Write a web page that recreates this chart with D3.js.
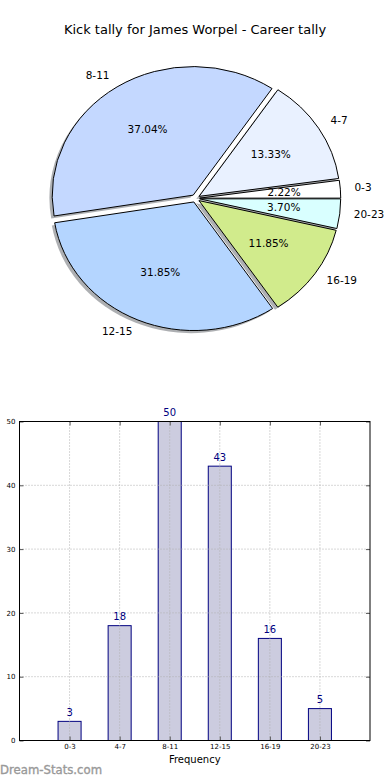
<!DOCTYPE html>
<html><head><meta charset="utf-8">
<script src="https://cdn.jsdelivr.net/npm/d3@7"></script>
<style>body{margin:0;background:#fff}svg{display:block;font-family:"DejaVu Sans",sans-serif}</style>
</head><body>
<script>
const categories = ["0-3","4-7","8-11","12-15","16-19","20-23"];
const values = [3,18,50,43,16,5];
const pieColors = ["#ffffff","#e9f1ff","#c4d8ff","#b4d5ff","#d1eb8c","#d9ffff"];
const yTicks = [0,10,20,30,40,50];
const title = "Kick tally for James Worpel - Career tally";

const W = 390, H = 780;
const svg = d3.select("body").append("svg").attr("width", W).attr("height", H);

svg.append("text").attr("x", 195).attr("y", 30).attr("text-anchor","middle")
  .attr("dominant-baseline","middle").attr("font-size", 13).text(title);

// ---- Pie ----
const cx = 195.5, cy = 198.4, rx = 141, ry = 128.6, explode = 0.03;
const total = d3.sum(values);
const pie = d3.pie().sort(null).startAngle(Math.PI/2).endAngle(Math.PI/2 - 2*Math.PI);
const arcs = pie(values);
const arcGen = d3.arc().innerRadius(0).outerRadius(1);
const gPie = svg.append("g");
function mathMid(d){ return Math.PI/2 - (d.startAngle + d.endAngle)/2; }
function off(d){ const t = mathMid(d); return [explode*rx*Math.cos(t), -explode*ry*Math.sin(t)]; }
// shadows
arcs.forEach((d,i)=>{
  const [ox,oy] = off(d);
  gPie.append("path").attr("d", arcGen(d))
    .attr("transform", `translate(${cx+ox-2.8},${cy+oy+2.6}) scale(${rx},${ry})`)
    .attr("fill", "#6a6d73").attr("fill-opacity", 0.55).attr("stroke","none");
});
arcs.forEach((d,i)=>{
  const [ox,oy] = off(d);
  gPie.append("path").attr("d", arcGen(d))
    .attr("transform", `translate(${cx+ox},${cy+oy}) scale(${rx},${ry})`)
    .attr("fill", pieColors[i]).attr("stroke","#000").attr("stroke-width",1)
    .attr("vector-effect","non-scaling-stroke").attr("stroke-linejoin","miter");
});
arcs.forEach((d,i)=>{
  const t = mathMid(d); const [ox,oy] = off(d);
  const lx = cx + ox + 1.1*rx*Math.cos(t), ly = cy + oy - 1.1*ry*Math.sin(t);
  gPie.append("text").attr("x", lx).attr("y", ly)
    .attr("text-anchor", Math.cos(t) < 0 ? "end" : "start")
    .attr("dominant-baseline","middle").attr("font-size", 10.5).text(categories[i]);
  const px = cx + ox + 0.6*rx*Math.cos(t), py = cy + oy - 0.6*ry*Math.sin(t);
  gPie.append("text").attr("x", px).attr("y", py).attr("text-anchor","middle")
    .attr("dominant-baseline","middle").attr("font-size", 10.5)
    .text((values[i]/total*100).toFixed(2) + "%");
});

// ---- Bar chart ----
const L = 19.5, R = 370, T = 421.5, B = 740.5;
const x = d3.scaleLinear().domain([-1, 6]).range([L, R]);
const y = d3.scaleLinear().domain([0, 50]).range([B, T]);
const bw = 0.46;
const gb = svg.append("g");
gb.selectAll("rect.bar").data(values).join("rect").attr("class","bar")
  .attr("x", (d,i)=> x(i - bw/2)).attr("width", (d,i)=> x(i+bw/2) - x(i-bw/2))
  .attr("y", d=> y(d)).attr("height", d=> y(0) - y(d))
  .attr("fill", "#ccccdf").attr("stroke", "#000080").attr("stroke-width", 1);
// grid
const gridC = "#b0b0b0";
gb.selectAll("line.vg").data(categories).join("line").attr("class","vg")
  .attr("x1",(d,i)=>x(i)).attr("x2",(d,i)=>x(i)).attr("y1",T).attr("y2",B)
  .attr("stroke",gridC).attr("stroke-dasharray","1,2").attr("stroke-width",1);
gb.selectAll("line.hg").data(yTicks.slice(1,-1)).join("line").attr("class","hg")
  .attr("x1",L).attr("x2",R).attr("y1",d=>y(d)).attr("y2",d=>y(d))
  .attr("stroke",gridC).attr("stroke-dasharray","1,2").attr("stroke-width",1);
// value labels
gb.selectAll("text.val").data(values).join("text").attr("class","val")
  .attr("x",(d,i)=>x(i)).attr("y", d=> y(d) - 5.5).attr("text-anchor","middle")
  .attr("font-size", 10).attr("fill","#000080").text(d=>d);
// axes
const axB = d3.axisBottom(x).tickValues(d3.range(categories.length)).tickFormat(i=>categories[i]).tickSizeInner(-4).tickSizeOuter(0).tickPadding(4);
const axL = d3.axisLeft(y).tickValues(yTicks).tickSizeInner(-4).tickSizeOuter(0).tickPadding(4);
const axT = d3.axisTop(x).tickValues(d3.range(categories.length)).tickFormat("").tickSizeInner(-4).tickSizeOuter(0);
const axR = d3.axisRight(y).tickValues(yTicks).tickFormat("").tickSizeInner(-4).tickSizeOuter(0);
function style(g){ g.select(".domain").remove(); g.selectAll("text").attr("font-size",7).attr("font-family","DejaVu Sans").attr("fill","#000"); g.selectAll("line").attr("stroke","#555"); }
gb.append("g").attr("transform",`translate(0,${B})`).call(axB).call(style);
gb.append("g").attr("transform",`translate(${L},0)`).call(axL).call(style);
gb.append("g").attr("transform",`translate(0,${T})`).call(axT).call(style);
gb.append("g").attr("transform",`translate(${R},0)`).call(axR).call(style);
gb.append("rect").attr("x",L).attr("y",T).attr("width",R-L).attr("height",B-T)
  .attr("fill","none").attr("stroke","#000").attr("stroke-width",1);
svg.append("text").attr("x",(L+R)/2).attr("y",760).attr("text-anchor","middle")
  .attr("dominant-baseline","middle").attr("font-size",10).text("Frequency");
svg.append("text").attr("x",0).attr("y",774).attr("font-size",11.7)
  .attr("fill","#999").attr("stroke","#999").attr("stroke-width",0.35).text("Dream-Stats.com");
</script>
</body></html>
